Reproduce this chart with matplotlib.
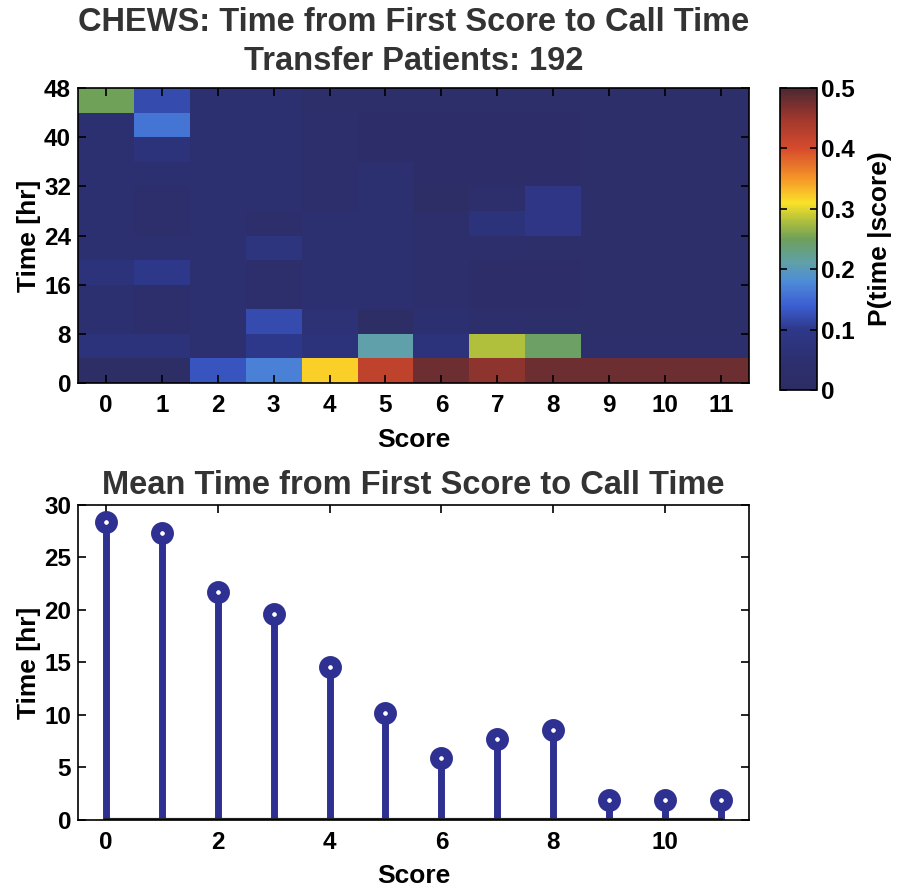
import numpy as np
import matplotlib
matplotlib.use("Agg")
import matplotlib.pyplot as plt
from matplotlib.colors import LinearSegmentedColormap

plt.rcParams['font.family'] = ['Liberation Sans', 'DejaVu Sans']
plt.rcParams['font.weight'] = 'bold'

# Data
scores = np.arange(12)
time_edges = np.arange(0, 49, 4)   # 4 hr bins, 0..48

# P(time | score), rows = time bins from 0-4 hr upward, cols = score 0..11
prob = np.array([
    [0.01, 0.01, 0.13, 0.17, 0.32, 0.42, 0.48, 0.46, 0.48, 0.48, 0.48, 0.48],  # 0-4
    [0.07, 0.07, 0.05, 0.10, 0.07, 0.21, 0.07, 0.28, 0.245, 0.04, 0.04, 0.04],  # 4-8
    [0.05, 0.04, 0.05, 0.12, 0.06, 0.01, 0.05, 0.04, 0.03, 0.03, 0.03, 0.03],  # 8-12
    [0.05, 0.04, 0.05, 0.04, 0.05, 0.05, 0.04, 0.02, 0.02, 0.03, 0.03, 0.03],  # 12-16
    [0.07, 0.10, 0.05, 0.04, 0.05, 0.05, 0.04, 0.02, 0.02, 0.03, 0.03, 0.03],  # 16-20
    [0.05, 0.05, 0.05, 0.08, 0.05, 0.05, 0.04, 0.04, 0.03, 0.03, 0.03, 0.03],  # 20-24
    [0.05, 0.04, 0.05, 0.04, 0.05, 0.05, 0.04, 0.07, 0.09, 0.03, 0.03, 0.03],  # 24-28
    [0.05, 0.04, 0.05, 0.05, 0.04, 0.05, 0.01, 0.04, 0.09, 0.03, 0.03, 0.03],  # 28-32
    [0.05, 0.05, 0.05, 0.05, 0.04, 0.05, 0.02, 0.02, 0.02, 0.03, 0.03, 0.03],  # 32-36
    [0.05, 0.07, 0.05, 0.05, 0.04, 0.02, 0.02, 0.02, 0.02, 0.03, 0.03, 0.03],  # 36-40
    [0.05, 0.16, 0.05, 0.05, 0.04, 0.02, 0.02, 0.02, 0.02, 0.03, 0.03, 0.03],  # 40-44
    [0.25, 0.12, 0.05, 0.05, 0.03, 0.03, 0.03, 0.03, 0.03, 0.03, 0.03, 0.03],  # 44-48
])

mean_time = [28.4, 27.3, 21.7, 19.6, 14.6, 10.2, 5.9, 7.7, 8.6, 1.9, 1.9, 1.9]

# faded jet, as it looks in the printed figure
stops = [
    (0.00, (45, 45, 100)), (0.10, (45, 48, 112)), (0.20, (46, 56, 138)),
    (0.28, (60, 95, 210)), (0.36, (78, 140, 215)), (0.42, (95, 160, 170)),
    (0.50, (110, 160, 90)), (0.56, (175, 192, 60)), (0.62, (250, 225, 40)),
    (0.70, (245, 150, 40)), (0.80, (215, 75, 45)), (0.90, (160, 55, 45)),
    (1.00, (75, 40, 50)),
]
cmap = LinearSegmentedColormap.from_list(
    "fadedjet", [(p, tuple(c / 255 for c in rgb)) for p, rgb in stops])

TICK = 17.5
LAB = 19
TTL = 23.5

fig = plt.figure(figsize=(8.99, 8.90), dpi=100)

# Heatmap
ax1 = fig.add_axes([0.0868, 0.5697, 0.7462, 0.3313])
x_edges = np.arange(-0.5, 12, 1)
mesh = ax1.pcolormesh(x_edges, time_edges, prob, cmap=cmap, vmin=0, vmax=0.5)
ax1.set_xlim(-0.5, 11.5)
ax1.set_ylim(0, 48)
ax1.set_xticks(scores)
ax1.set_yticks(np.arange(0, 49, 8))
ax1.tick_params(direction='in', top=True, right=True, labelsize=TICK, length=6, width=1.2, pad=5)
ax1.tick_params(axis='x', pad=8)
ax1.set_xlabel("Score", fontsize=LAB, fontweight='bold', labelpad=8)
ax1.set_ylabel("Time [hr]", fontsize=LAB, fontweight='bold', labelpad=2)
ax1.set_title("CHEWS: Time from First Score to Call Time\nTransfer Patients: 192",
              fontsize=TTL, fontweight='bold', color='#333333', linespacing=1.35, pad=13)
for s in ax1.spines.values():
    s.set_linewidth(1.2)

cax = fig.add_axes([0.868, 0.5618, 0.041, 0.3393])
cb = fig.colorbar(mesh, cax=cax)
cb.set_ticks([0, 0.1, 0.2, 0.3, 0.4, 0.5])
cb.set_ticklabels(['0', '0.1', '0.2', '0.3', '0.4', '0.5'])
cax.tick_params(direction='in', labelsize=TICK, length=5, width=1.2, left=True, pad=3)
cb.set_label("P(time |score)", fontsize=LAB, fontweight='bold', labelpad=9)
cb.outline.set_linewidth(1.2)

# Stem plot
navy = '#2e3191'
ax2 = fig.add_axes([0.0868, 0.0787, 0.7462, 0.3539])
markers, stemlines, baseline = ax2.stem(scores, mean_time)
plt.setp(stemlines, color=navy, linewidth=5)
plt.setp(markers, marker='o', markersize=10, markerfacecolor='white',
         markeredgecolor=navy, markeredgewidth=6.5)
plt.setp(baseline, color='#222222', linewidth=3)
ax2.set_xlim(-0.5, 11.5)
ax2.set_ylim(0, 30)
ax2.set_xticks(np.arange(0, 11, 2))
ax2.set_yticks(np.arange(0, 31, 5))
ax2.tick_params(direction='in', top=True, right=True, labelsize=TICK, length=6, width=1.2, pad=5)
ax2.tick_params(axis='x', pad=8)
ax2.set_xlabel("Score", fontsize=LAB, fontweight='bold', labelpad=7)
ax2.set_ylabel("Time [hr]", fontsize=LAB, fontweight='bold', labelpad=2)
ax2.set_title("Mean Time from First Score to Call Time",
              fontsize=TTL, fontweight='bold', color='#333333', pad=8)
for s in ax2.spines.values():
    s.set_linewidth(1.2)

fig.savefig("out.png", dpi=100)
